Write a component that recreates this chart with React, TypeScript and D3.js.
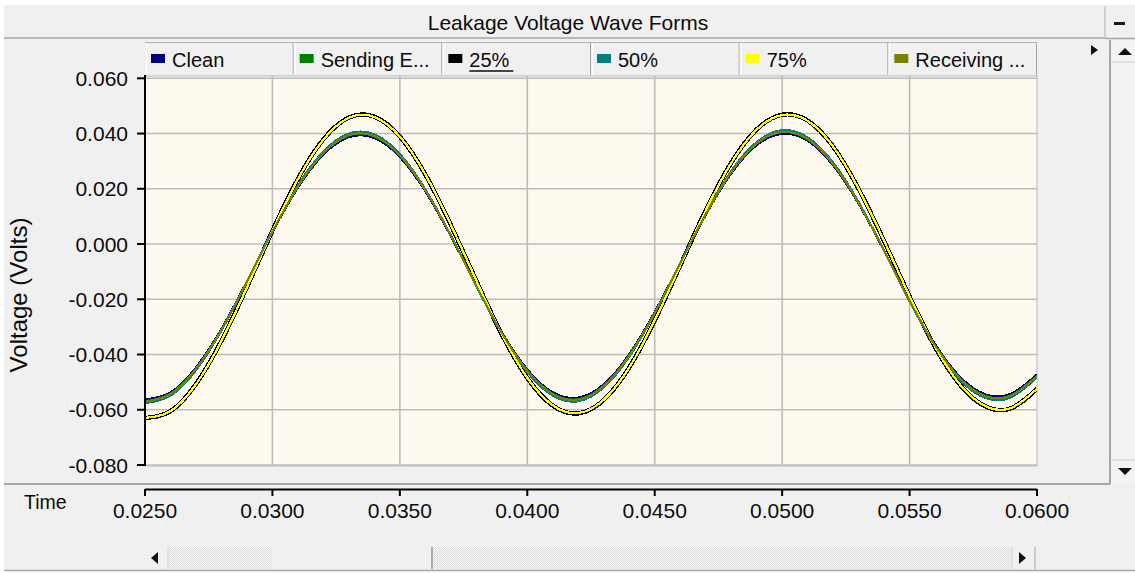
import React from "react";
import * as d3 from "d3";

// Sample times (s)
const times = [
  0.025, 0.026, 0.027, 0.028, 0.029, 0.03, 0.031, 0.032, 0.033, 0.034, 0.035, 0.036,
  0.037, 0.038, 0.039, 0.04, 0.041, 0.042, 0.043, 0.044, 0.045, 0.046, 0.047, 0.048,
  0.049, 0.05, 0.051, 0.052, 0.053, 0.054, 0.055, 0.056, 0.057, 0.058, 0.059, 0.06,
];

// Leakage voltage (V) for each case
const cleanValues = [
  -0.0563, -0.0537, -0.0447, -0.0307, -0.0135, 0.0043, 0.0204, 0.0324, 0.0387, 0.0384, 0.0315, 0.0191,
  0.0028, -0.015, -0.0319, -0.0454, -0.0537, -0.0556, -0.0508, -0.0399, -0.0246, -0.007, 0.0105, 0.0255,
  0.0358, 0.0399, 0.0374, 0.0285, 0.0146, -0.0025, -0.0203, -0.0363, -0.0483, -0.0545, -0.0541, -0.0472,
];
const sendingEndValues = [
  -0.0569, -0.0542, -0.0451, -0.031, -0.0136, 0.0044, 0.0207, 0.0329, 0.0393, 0.039, 0.032, 0.0195,
  0.003, -0.015, -0.0321, -0.0458, -0.0542, -0.0562, -0.0513, -0.0403, -0.0249, -0.007, 0.0107, 0.0259,
  0.0363, 0.0405, 0.0379, 0.0289, 0.0149, -0.0025, -0.0204, -0.0366, -0.0488, -0.0551, -0.0547, -0.0477,
];
const pct25Values = [
  -0.063, -0.0605, -0.0507, -0.035, -0.0156, 0.0048, 0.0236, 0.0379, 0.0458, 0.0461, 0.0389, 0.0252,
  0.0069, -0.0133, -0.0327, -0.0485, -0.0585, -0.0613, -0.0565, -0.0447, -0.0277, -0.0078, 0.0122, 0.0294,
  0.0415, 0.0468, 0.0447, 0.0353, 0.02, 0.0011, -0.019, -0.0373, -0.0512, -0.0589, -0.0594, -0.0525,
];
const pct50Values = [
  -0.0576, -0.0549, -0.0457, -0.0313, -0.0137, 0.0047, 0.0212, 0.0335, 0.04, 0.0397, 0.0326, 0.0198,
  0.0031, -0.0152, -0.0325, -0.0464, -0.0549, -0.0569, -0.0519, -0.0408, -0.0251, -0.007, 0.011, 0.0264,
  0.0369, 0.0412, 0.0386, 0.0295, 0.0152, -0.0024, -0.0207, -0.0371, -0.0494, -0.0558, -0.0554, -0.0483,
];
const pct75Values = [
  -0.0629, -0.0605, -0.0508, -0.0351, -0.0157, 0.0048, 0.0235, 0.0378, 0.0457, 0.046, 0.0389, 0.0252,
  0.007, -0.0132, -0.0326, -0.0484, -0.0584, -0.0612, -0.0564, -0.0447, -0.0277, -0.0078, 0.0121, 0.0293,
  0.0414, 0.0467, 0.0446, 0.0353, 0.02, 0.0012, -0.0189, -0.0372, -0.0511, -0.0588, -0.0593, -0.0524,
];
const receivingEndValues = [
  -0.057, -0.0543, -0.0452, -0.031, -0.0136, 0.0045, 0.0208, 0.033, 0.0394, 0.0391, 0.0321, 0.0195,
  0.003, -0.0151, -0.0322, -0.0459, -0.0543, -0.0563, -0.0514, -0.0404, -0.0249, -0.007, 0.0108, 0.026,
  0.0364, 0.0406, 0.038, 0.029, 0.0149, -0.0025, -0.0205, -0.0367, -0.0489, -0.0552, -0.0548, -0.0478,
];

const seriesNames = ["Clean", "Sending End", "25%", "50%", "75%", "Receiving End"];
const legendLabels = ["Clean", "Sending E...", "25%", "50%", "75%", "Receiving ..."];
const xTickValues = [0.025, 0.03, 0.035, 0.04, 0.045, 0.05, 0.055, 0.06];
const yTickValues = [0.06, 0.04, 0.02, 0, -0.02, -0.04, -0.06, -0.08];

const chartTitle = "Leakage Voltage Wave Forms";
const yAxisTitle = "Voltage (Volts)";
const xAxisTitle = "Time";

const W = 1135;
const H = 573;
const FONT = "'Liberation Sans', Arial, sans-serif";
const BG = "#f0f0f0";
const TEXT = "#0c0c0c";

const plotBox = { left: 145, right: 1037, top: 76, bottom: 466 };

const x = d3.scaleLinear().domain([0.025, 0.06]).range([145, 1037]);
const y = d3.scaleLinear().domain([-0.08, 0.06]).range([465, 78.3]);

const seriesStyles = [
  { color: "#000080", width: 2.2 },
  { color: "#008000", width: 2.2 },
  { color: "#000000", width: 4.4 },
  { color: "#008080", width: 2.2 },
  { color: "#ffff00", width: 2.2 },
  { color: "#808000", width: 2 },
];

const seriesValues = [
  cleanValues,
  sendingEndValues,
  pct25Values,
  pct50Values,
  pct75Values,
  receivingEndValues,
];

const locale = d3.formatLocale({
  decimal: ".",
  thousands: ",",
  grouping: [3],
  currency: ["", ""],
  minus: "-",
});
const fmtX = locale.format(".4f");
const fmtY = locale.format(".3f");

const lineGen = d3
  .line<number>()
  .x((_, i) => x(times[i]))
  .y((d) => y(d))
  .curve(d3.curveNatural);

export default function App() {
  const cellW = (plotBox.right - plotBox.left) / legendLabels.length;
  const legendTop = 42;
  const legendBottom = 75;

  const hScroll = { left: 145, right: 1035, top: 547, bottom: 569 };
  const thumb = { left: 272, right: 432 };
  const vScroll = { left: 1110, right: 1135, top: 40, bottom: 484 };

  return (
    <div style={{ position: "absolute", left: 0, top: 0 }}>
      <svg width={W} height={H} style={{ display: "block", fontFamily: FONT }}>
        <defs>
          <pattern id="dither" width="2" height="2" patternUnits="userSpaceOnUse">
            <rect width="2" height="2" fill="#f7f7f7" />
            <rect x="0" y="0" width="1" height="1" fill="#dcdcdc" />
            <rect x="1" y="1" width="1" height="1" fill="#dcdcdc" />
          </pattern>
          <clipPath id="plotClip">
            <rect
              x={plotBox.left}
              y={plotBox.top}
              width={plotBox.right - plotBox.left}
              height={plotBox.bottom - plotBox.top}
            />
          </clipPath>
        </defs>

        {/* page and panel */}
        <rect x={0} y={0} width={W} height={H} fill="#ffffff" />
        <rect x={4} y={5} width={W - 4} height={566} fill={BG} />

        {/* title bar */}
        <text x={568} y={30} textAnchor="middle" fontSize={21} fill={TEXT}>
          {chartTitle}
        </text>
        <line x1={4} x2={1105} y1={38} y2={38} stroke="#a6a6a6" strokeWidth={1.5} />
        <line x1={1105} x2={1105} y1={6} y2={38} stroke="#c4c4c4" strokeWidth={1.5} />
        <line x1={1105} x2={W} y1={38.5} y2={38.5} stroke="#a6a6a6" strokeWidth={1.5} />
        <rect x={1114} y={22} width={11} height={3} fill="#1a1a1a" />

        {/* legend row */}
        {legendLabels.map((label, i) => {
          const cx = plotBox.left + i * cellW;
          const st = seriesStyles[i];
          return (
            <g key={seriesNames[i]}>
              <rect x={cx} y={legendTop} width={cellW} height={legendBottom - legendTop} fill={BG} />
              <line x1={cx} x2={cx + cellW} y1={legendTop + 0.5} y2={legendTop + 0.5} stroke="#b4b4b4" />
              <line x1={cx + 1.5} x2={cx + 1.5} y1={legendTop + 1} y2={legendBottom} stroke="#ffffff" />
              <line x1={cx + cellW - 0.5} x2={cx + cellW - 0.5} y1={legendTop} y2={legendBottom} stroke="#a4a4a4" />
              <rect x={cx + 6} y={54} width={14} height={9} fill={st.color} />
              <text x={cx + 27} y={67} fontSize={20} fill={TEXT}>
                {label}
              </text>
              {i === 2 && (
                <line x1={cx + 27} x2={cx + 71} y1={71} y2={71} stroke={TEXT} strokeWidth={1.5} />
              )}
            </g>
          );
        })}
        <path d="M1091,45 L1098,50 L1091,55 Z" fill="#111" />

        {/* plot area */}
        <rect
          x={plotBox.left}
          y={plotBox.top}
          width={plotBox.right - plotBox.left}
          height={plotBox.bottom - plotBox.top}
          fill="#fdf9ee"
          stroke="#b8b8b8"
          strokeWidth={1}
        />
        {/* grid */}
        {xTickValues.slice(1, -1).map((t) => (
          <line
            key={"gx" + t}
            x1={x(t)}
            x2={x(t)}
            y1={plotBox.top}
            y2={plotBox.bottom}
            stroke="#bcbcbc"
            strokeWidth={1.6}
          />
        ))}
        {yTickValues.map((v) => (
          <line
            key={"gy" + v}
            x1={plotBox.left}
            x2={plotBox.right}
            y1={y(v)}
            y2={y(v)}
            stroke="#bcbcbc"
            strokeWidth={1.6}
          />
        ))}

        {/* series */}
        <g clipPath="url(#plotClip)">
          {seriesValues.map((vals, i) => (
            <path
              key={seriesNames[i]}
              d={lineGen(vals) || ""}
              fill="none"
              stroke={seriesStyles[i].color}
              strokeWidth={seriesStyles[i].width}
              strokeLinejoin="round"
              shapeRendering="crispEdges"
            />
          ))}
        </g>

        {/* y axis */}
        <line x1={plotBox.left} x2={plotBox.left} y1={plotBox.top - 1} y2={plotBox.bottom} stroke="#000" strokeWidth={2} />
        {yTickValues.map((v) => (
          <g key={"yt" + v}>
            <line x1={137} x2={plotBox.left} y1={y(v)} y2={y(v)} stroke="#000" strokeWidth={2} />
            <text x={128} y={y(v) + 7.5} textAnchor="end" fontSize={21} fill={TEXT}>
              {fmtY(v)}
            </text>
          </g>
        ))}
        <text
          transform={`translate(27,295) rotate(-90)`}
          textAnchor="middle"
          fontSize={24}
          fill={TEXT}
        >
          {yAxisTitle}
        </text>

        {/* x axis strip */}
        <line x1={4} x2={vScroll.left} y1={484} y2={484} stroke="#a6a6a6" strokeWidth={2} />
        <line x1={plotBox.left} x2={plotBox.right} y1={489.5} y2={489.5} stroke="#000" strokeWidth={2} />
        {xTickValues.map((t) => (
          <g key={"xt" + t}>
            <line x1={x(t)} x2={x(t)} y1={489} y2={496} stroke="#000" strokeWidth={2} />
            <text x={x(t)} y={518} textAnchor="middle" fontSize={21} fill={TEXT}>
              {fmtX(t)}
            </text>
          </g>
        ))}
        <text x={24} y={509} fontSize={19.5} fill={TEXT}>
          {xAxisTitle}
        </text>

        {/* horizontal scroll bar */}
        <rect
          x={hScroll.left}
          y={hScroll.top}
          width={hScroll.right - hScroll.left}
          height={hScroll.bottom - hScroll.top}
          fill="url(#dither)"
        />
        <rect x={thumb.left} y={hScroll.top} width={thumb.right - thumb.left} height={hScroll.bottom - hScroll.top} fill={BG} />
        <line x1={thumb.right} x2={thumb.right} y1={hScroll.top} y2={hScroll.bottom} stroke="#9a9a9a" strokeWidth={1.5} />
        <rect x={hScroll.left} y={hScroll.top} width={23} height={hScroll.bottom - hScroll.top} fill={BG} />
        <line x1={hScroll.left + 23} x2={hScroll.left + 23} y1={hScroll.top} y2={hScroll.bottom} stroke="#d6d6d6" />
        <path d="M151,558 L158,552 L158,564 Z" fill="#111" />
        <rect x={hScroll.right - 23} y={hScroll.top} width={23} height={hScroll.bottom - hScroll.top} fill={BG} />
        <line x1={hScroll.right - 23} x2={hScroll.right - 23} y1={hScroll.top} y2={hScroll.bottom} stroke="#d6d6d6" />
        <line x1={hScroll.right} x2={hScroll.right} y1={hScroll.top} y2={hScroll.bottom} stroke="#a6a6a6" />
        <path d="M1026,558 L1019,552 L1019,564 Z" fill="#111" />
        <line x1={4} x2={W} y1={570.5} y2={570.5} stroke="#a6a6a6" strokeWidth={1.5} />

        {/* vertical scroll bar */}
        <rect x={vScroll.left} y={vScroll.top} width={vScroll.right - vScroll.left} height={vScroll.bottom - vScroll.top} fill="#f3f3f3" />
        <line x1={vScroll.left} x2={vScroll.left} y1={vScroll.top} y2={vScroll.bottom} stroke="#a6a6a6" strokeWidth={2} />
        <line x1={vScroll.left} x2={W} y1={62} y2={62} stroke="#d2d2d2" />
        <line x1={vScroll.left} x2={W} y1={460} y2={460} stroke="#d2d2d2" />
        <path d="M1118,55 L1125,48 L1132,55 Z" fill="#111" />
        <path d="M1118,468 L1125,475 L1132,468 Z" fill="#111" />
      </svg>
    </div>
  );
}
